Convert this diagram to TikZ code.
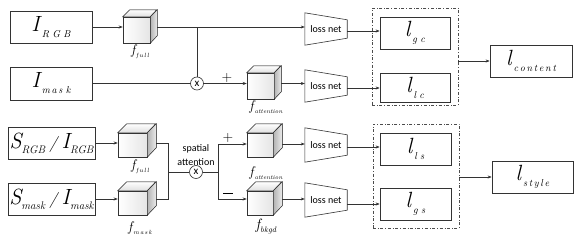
\documentclass[tikz,border=0pt]{standalone}
\usepackage{fontspec}
\newfontfamily\sansf{Carlito}
\usetikzlibrary{arrows.meta}
\newcommand\biglab[2]{{\fontsize{22}{22}\selectfont\itshape #1}\hspace{2pt}\raisebox{-6pt}{\fontsize{10}{10}\selectfont\itshape #2}}
\newcommand\biglabn[2]{{\fontsize{22}{22}\selectfont\itshape #1}\raisebox{-5pt}{\fontsize{11}{11}\selectfont\itshape #2}}
\newcommand\flab[1]{{\fontsize{14}{14}\selectfont\itshape f}\hspace{1pt}\raisebox{-3pt}{\fontsize{6}{6}\selectfont\itshape #1}}
\newcommand\flabb[1]{{\fontsize{15}{15}\selectfont\itshape f}\raisebox{-3pt}{\fontsize{8}{8}\selectfont\itshape #1}}
\newcommand\mycube[6]{%
  \node[cubef, minimum width=#4pt, minimum height=#5pt] (#1) at (#2,#3) {};
  \fill[top color=white, bottom color=gray!25, draw=black!80, line width=0.5pt]
    (#1.north west) -- ++(#6,-#6) -- ++(#4,0) -- (#1.north east) -- cycle;
  \fill[left color=gray!60, right color=gray!15, draw=black!80, line width=0.5pt]
    (#1.north east) -- ++(#6,-#6) -- ++(0,#5) -- (#1.south east) -- cycle;
}
\begin{document}
\begin{tikzpicture}[x=1pt,y=-1pt,
  box/.style={draw=black!80, line width=0.7pt, inner sep=0pt, fill=white},
  arr/.style={-{Stealth[length=4pt,width=3pt]}, draw=black!80, line width=0.5pt},
  ln/.style={draw=black!80, line width=0.5pt},
  lossbox/.style={minimum width=42pt, minimum height=32pt, inner sep=0pt, font=\sansf\fontsize{10}{10}\selectfont},
  cubef/.style={draw=black!80, line width=0.5pt, inner sep=0pt, left color=white, right color=gray!20},
  mult/.style={circle, draw=black!80, line width=0.6pt, minimum size=13pt, inner sep=0pt, font=\sansf\fontsize{11}{11}\selectfont},
  grp/.style={draw=black!70, dash dot, line width=0.5pt, inner sep=0pt},
  txt/.style={inner sep=0pt, font=\sansf\fontsize{10}{10}\selectfont},
  sgn/.style={inner sep=0pt, font=\fontsize{14}{14}\selectfont}]
\useasboundingbox (0,0) rectangle (582,241);
\fill[white] (0,0) rectangle (582,241);

% ---------- top row ----------
\node[box, minimum width=82pt, minimum height=32pt] (irgb) at (51,27) {\biglab{I}{R\,\,G\,\,B}};
\node[box, minimum width=82pt, minimum height=33pt] (imask) at (51,83.5) {\biglab{I}{m\,a\,s\,\,k}};
\mycube{c1}{136.5}{30}{27}{26}{7}
\node[inner sep=0pt] (fl1) at (140,52) {\flab{f\,u\,l\,l}};
\mycube{c2}{260.5}{86}{27}{26}{7}
\node[inner sep=0pt] (fl2) at (266,107) {\flab{attention}};
\node[mult] (m1) at (197,83.5) {x};
\node[sgn] (p1) at (227,78) {+};

\node[lossbox] (loss1) at (326,29) {loss net};
\node[lossbox] (loss2) at (326,86) {loss net};
\foreach \n in {loss1,loss2}{
  \draw[black!80, line width=0.6pt] (\n.north west) -- ([yshift=-7pt]\n.north east) -- ([yshift=7pt]\n.south east) -- (\n.south west) -- cycle;
}
\node[grp, minimum width=86pt, minimum height=97pt] (grp1) at (415,56.5) {};
\node[box, minimum width=70pt, minimum height=32pt] (lgc) at (415,33) {\biglab{l}{g\,\,c}};
\node[box, minimum width=70pt, minimum height=29pt] (llc) at (415,87.5) {\biglab{l}{l\,\,c}};
\node[box, minimum width=82pt, minimum height=32pt] (lcontent) at (531,61) {\biglab{l}{c\,o\,n\,t\,e\,n\,t}};

\coordinate (j1) at (m1.north |- irgb.east);
\draw[arr] (irgb.east) -- (irgb.east -| c1.west);
\draw[arr] ([xshift=7pt]c1.east |- irgb.east) -- (irgb.east -| loss1.west);
\draw[ln] (j1) -- (m1.north);
\draw[ln] (imask.east) -- (m1.west);
\draw[arr] (m1.east) -- (m1.east -| c2.west);
\draw[arr] ([xshift=7pt]c2.east |- m1.east) -- (m1.east -| loss2.west);
\draw[arr] ([yshift=-2pt]loss1.east) -- ([yshift=-2pt]loss1.east -| lgc.west);
\draw[arr] ([yshift=-2pt]loss2.east) -- ([yshift=-2pt]loss2.east -| llc.west);
\draw[arr] (lcontent.west -| grp1.east) -- (lcontent.west);

% ---------- bottom row ----------
\node[box, minimum width=87pt, minimum height=32pt] (srgb) at (51.5,143) {\biglabn{S}{RGB}\,{\fontsize{16}{16}\selectfont\itshape\,/\,}\,\biglabn{I}{RGB}};
\node[box, minimum width=87pt, minimum height=32pt] (smask) at (51.5,199) {\biglabn{S}{mask}\,{\fontsize{16}{16}\selectfont\itshape\,/\,}\,\biglabn{I}{mask}};
\mycube{c3}{132.5}{145}{29}{24}{9}
\node[inner sep=0pt] (fl3) at (140,167) {\flab{f\,u\,l\,l}};
\mycube{c4}{132.5}{203}{29}{24}{9}
\node[inner sep=0pt] (fl4) at (140,228) {\flab{m\,a\,s\,k}};
\mycube{c5}{260}{145}{26}{24}{9}
\node[inner sep=0pt] (fl5) at (266,173) {\flab{attention}};
\mycube{c6}{260}{203}{26}{24}{9}
\node[inner sep=0pt] (fl6) at (266,227) {\flabb{bkgd}};
\node[mult] (m2) at (196,172) {x};
\node[txt] (sp1) at (196,149) {spatial};
\node[txt] (sp2) at (196,162) {attention};
\node[sgn] (p2) at (228,138) {+};
\node[inner sep=0pt] (p3) at (228,193) {\rule{10pt}{0.9pt}};

\node[lossbox, minimum height=34pt] (loss3) at (326,145) {loss net};
\node[lossbox, minimum height=34pt] (loss4) at (326,200) {loss net};
\foreach \n in {loss3,loss4}{
  \draw[black!80, line width=0.6pt] (\n.north west) -- ([yshift=-7pt]\n.north east) -- ([yshift=7pt]\n.south east) -- (\n.south west) -- cycle;
}
\node[grp, minimum width=86pt, minimum height=104pt] (grp2) at (416,176) {};
\node[box, minimum width=71pt, minimum height=32pt] (lls) at (415.5,149) {\biglab{l}{l\,\,s}};
\node[box, minimum width=71pt, minimum height=32pt] (lgs) at (415.5,204) {\biglab{l}{g\,\,s}};
\node[box, minimum width=81pt, minimum height=32pt] (lstyle) at (532.5,177) {\biglab{l}{s\,t\,y\,l\,e}};

\coordinate (b1) at (168,143);
\coordinate (b2) at (168,199);
\coordinate (s1) at (218,144);
\coordinate (s2) at (218,199);
\draw[arr] (srgb.east) -- (srgb.east -| c3.west);
\draw[arr] (smask.east) -- (smask.east -| c4.west);
\draw[ln] ([xshift=9pt]c3.east |- b1) -- (b1) -- (b2) -- ([xshift=9pt]c4.east |- b2);
\draw[ln] (b1 |- m2) -- (m2.west);
\draw[ln] (m2.east) -- (s1 |- m2);
\draw[ln] (s1) -- (s2);
\draw[arr] (s1) -- (s1 -| c5.west);
\draw[arr] (s2) -- (s2 -| c6.west);
\draw[arr] ([xshift=9pt]c5.east |- s1) -- (s1 -| loss3.west);
\draw[arr] ([xshift=9pt]c6.east |- s2) -- (s2 -| loss4.west);
\draw[arr] ([yshift=-2pt]loss3.east) -- ([yshift=-2pt]loss3.east -| lls.west);
\draw[arr] ([yshift=-4pt]loss4.east) -- ([yshift=-4pt]loss4.east -| lgs.west);
\draw[arr] (lstyle.west -| grp2.east) -- (lstyle.west);
\end{tikzpicture}
\end{document}
